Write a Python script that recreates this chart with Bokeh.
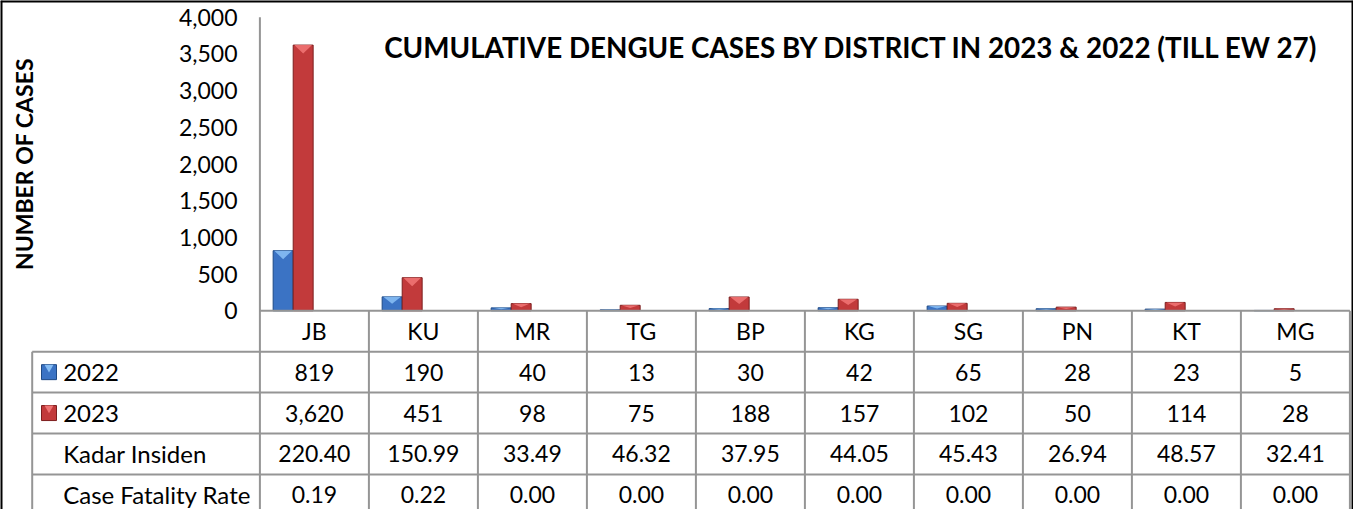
import math
from bokeh.plotting import figure
from bokeh.models import Range1d, FixedTicker, NumeralTickFormatter
from bokeh.embed import file_html
from bokeh.resources import INLINE
from bokeh.core.properties import value

# ---------------- data ----------------
districts = ["JB", "KU", "MR", "TG", "BP", "KG", "SG", "PN", "KT", "MG"]
cases_2022 = [819, 190, 40, 13, 30, 42, 65, 28, 23, 5]
cases_2023 = [3620, 451, 98, 75, 188, 157, 102, 50, 114, 28]
kadar_insiden = [220.40, 150.99, 33.49, 46.32, 37.95, 44.05, 45.43, 26.94, 48.57, 32.41]
case_fatality_rate = [0.19, 0.22, 0.00, 0.00, 0.00, 0.00, 0.00, 0.00, 0.00, 0.00]
y_ticks = [0, 500, 1000, 1500, 2000, 2500, 3000, 3500, 4000]
row_labels = ["2022", "2023", "Kadar Insiden", "Case Fatality Rate"]
title_text = "CUMULATIVE DENGUE CASES BY DISTRICT IN 2023 & 2022 (TILL EW 27)"
y_label = "NUMBER OF CASES"

# ---------------- geometry (pixels) & style ----------------
FONT = "Lato"
W, HGT = 1353, 509
COL = 109.0          # px per district column
AXIS_FX = 259.4      # x of value axis (px from left)
TABLE_FX = 31.7      # x of table left edge
ZERO_FY = 310.3      # y of the zero line (px from top)
AXIS_PX = 293.6      # px for 0..4000
ROW_PX = 40.9        # table row height
Y_MAX = 4000
K = Y_MAX / AXIS_PX
R = ROW_PX * K
X0, X1 = -AXIS_FX / COL, (W - AXIS_FX) / COL
Y_TOP, Y_BOT = ZERO_FY * K, -(HGT - ZERO_FY) * K
TL = -(AXIS_FX - TABLE_FX) / COL
GRID = "#959595"
BLUE, BLUE_L, BLUE_D = "#3b73c4", "#86bdf4", "#1f4a85"
RED, RED_L, RED_D = "#c23a3b", "#ef7373", "#7c1e1e"
OFF = [-0.287, -0.103]
BW = 0.183
n = len(districts)
idx = list(range(n))

p = figure(width=W, height=HGT, x_range=Range1d(X0, X1), y_range=Range1d(Y_BOT, Y_TOP),
           output_backend="svg", toolbar_location=None, x_axis_location=None,
           y_axis_location="left", min_border=0, min_border_left=0, min_border_right=0,
           min_border_top=0, min_border_bottom=0)
p.xgrid.visible = False
p.ygrid.visible = False
p.outline_line_color = None

ya = p.yaxis[0]
ya.ticker = FixedTicker(ticks=y_ticks)
ya.formatter = NumeralTickFormatter(format="0,0")
ya.major_tick_in = 0
ya.major_tick_out = 0
ya.minor_tick_in = 0
ya.minor_tick_out = 0
ya.axis_line_color = None
ya.major_label_standoff = -237
ya.major_label_text_font = FONT
ya.major_label_text_font_size = "23px"
ya.major_label_text_color = "black"

# bars
for k, (vals, fc, lc, tc) in enumerate([(cases_2022, BLUE, BLUE_D, BLUE_L),
                                        (cases_2023, RED, RED_D, RED_L)]):
    xc = [i + 0.5 + OFF[k] for i in idx]
    p.vbar(x=xc, top=vals, bottom=0, width=BW, fill_color=fc, line_color=lc, line_width=1)
    xs, ys = [], []
    for i, v in enumerate(vals):
        d = min(115, v * 0.5)
        xs.append([xc[i] - BW / 2 + 0.01, xc[i] + BW / 2 - 0.01, xc[i]])
        ys.append([v, v, v - d])
    p.patches(xs=xs, ys=ys, fill_color=tc, line_color=None, fill_alpha=0.9)

# table lines
vx = [0] + [i + 1 for i in idx]
p.segment(x0=vx, y0=[Y_MAX] + [0] * n, x1=vx, y1=[Y_BOT] * len(vx),
          line_color=GRID, line_width=2)
p.segment(x0=[TL], y0=[-R], x1=[TL], y1=[Y_BOT], line_color=GRID, line_width=2)
hy = [0, -R, -2 * R, -3 * R, -4 * R]
p.segment(x0=[0] + [TL] * 4, y0=hy, x1=[n] * 5, y1=hy, line_color=GRID, line_width=2)

# district names
p.text(x=[i + 0.5 for i in idx], y=[-0.5 * R] * n, text=districts, text_align="center",
       text_baseline="middle", text_font=value(FONT), text_font_size="23px",
       text_color="black")

rows = [[f"{v:,}" for v in cases_2022],
        [f"{v:,}" for v in cases_2023],
        [f"{v:.2f}" for v in kadar_insiden],
        [f"{v:.2f}" for v in case_fatality_rate]]
for r, vals in enumerate(rows):
    yc = -(r + 1.5) * R
    p.text(x=[i + 0.5 for i in idx], y=[yc] * n, text=vals, text_align="center",
           text_baseline="middle", text_font=value(FONT), text_font_size="23px",
           text_color="black")
p.text(x=[TL + 31 / COL] * 4, y=[-(r + 1.5) * R for r in range(4)], text=row_labels,
       text_align="left", text_baseline="middle", text_font=value(FONT),
       text_font_size="24px", text_color="black")
# legend keys
p.scatter(x=[TL + 16.8 / COL] * 2, y=[-1.5 * R, -2.5 * R], marker="square", size=15,
          fill_color=[BLUE, RED], line_color=[BLUE_D, RED_D], line_width=1)
p.scatter(x=[TL + 16.8 / COL] * 2, y=[-1.5 * R + 0.12 * R, -2.5 * R + 0.12 * R],
          marker="inverted_triangle", size=9, fill_color=[BLUE_L, RED_L], line_color=None)

# titles
p.text(x=[5.43], y=[3590], text=[title_text], text_align="center", text_baseline="middle",
       text_font=value(FONT), text_font_style="bold", text_font_size="27.8px",
       text_color="black")
p.text(x=[(23.8 - AXIS_FX) / COL], y=[2000], text=[y_label], angle=math.pi / 2,
       text_align="center", text_baseline="middle", text_font=value(FONT),
       text_font_style="bold", text_font_size="23px", text_color="black")

# outer chart border
p.segment(x0=[X0, X1, X0], y0=[Y_BOT, Y_BOT, Y_TOP], x1=[X0, X1, X1], y1=[Y_TOP, Y_TOP, Y_TOP],
          line_color="black", line_width=4)

open("out.html", "w").write(file_html(p, INLINE))
